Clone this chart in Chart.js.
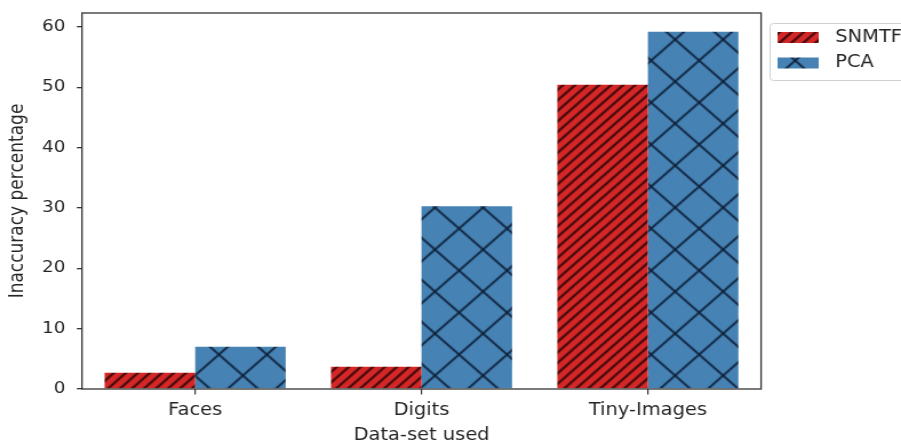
<!DOCTYPE html>
<html>
<head>
<meta charset="utf-8">
<script src="https://cdn.jsdelivr.net/npm/chart.js@4/dist/chart.umd.min.js"></script>
<style>
  html, body { margin: 0; padding: 0; background: #fff; overflow: hidden; width: 901px; height: 444px; }
  /* the figure is drawn on a narrower canvas and widened to the page width */
  #wrap { width: 788px; height: 444px; transform: scaleX(1.1434); transform-origin: 0 0; }
  canvas { display: block; }
</style>
</head>
<body>
<div id="wrap"><canvas id="c" width="788" height="444"></canvas></div>
<script>
// Data
const categories = ['Faces', 'Digits', 'Tiny-Images'];
const snmtfValues = [2.7, 3.7, 50.4];
const pcaValues = [7.0, 30.3, 59.2];
const seriesNames = ['SNMTF', 'PCA'];
const yTicks = [0, 10, 20, 30, 40, 50, 60];
const yMax = 62.3;

const FONT = '"DejaVu Sans", "Liberation Sans", sans-serif';
const INK = '#262626';

// Hatched fills, tiled from the canvas origin so neighbouring bars share one grid
function hatch(fill, ink, width, drawLines) {
  const T = 42;
  const c = document.createElement('canvas');
  c.width = T; c.height = T;
  const g = c.getContext('2d');
  g.fillStyle = fill;
  g.fillRect(0, 0, T, T);
  g.strokeStyle = ink;
  g.lineWidth = width;
  g.beginPath();
  drawLines(g, T);
  g.stroke();
  const p = g.createPattern(c, 'repeat');
  p.setTransform(new DOMMatrix().translate(2.4, -2.5));
  return p;
}

const stripeFill = hatch('#d62728', 'rgba(35,5,5,0.9)', 2.1, (g, T) => {
  const step = T / 4;
  for (let k = -1; k <= 9; k++) {
    const c = k * step;
    g.moveTo(c + 4, -4); g.lineTo(c - T - 4, T + 4);
  }
});

const crossFill = hatch('#4682b4', 'rgba(8,20,40,0.92)', 1.7, (g, T) => {
  for (const c of [0, T, 2 * T]) { g.moveTo(c + 4, -4); g.lineTo(c - T - 4, T + 4); }
  for (const d of [-T, 0, T]) { g.moveTo(d - 4, -4); g.lineTo(d + T + 4, T + 4); }
});

// Axes frame on all four sides
const frame = {
  id: 'frame',
  afterDatasetsDraw(chart) {
    const { ctx, chartArea: a } = chart;
    ctx.save();
    ctx.strokeStyle = '#333';
    ctx.lineWidth = 1.3;
    ctx.strokeRect(a.left, a.top, a.right - a.left, a.bottom - a.top);
    ctx.restore();
  }
};

// Boxed legend to the right of the axes
const legendBox = {
  id: 'legendBox',
  afterDraw(chart) {
    const ctx = chart.ctx;
    ctx.save();
    ctx.beginPath();
    ctx.roundRect(673.5, 23.5, 160, 57, 3);
    ctx.fillStyle = 'rgba(255,255,255,0.8)';
    ctx.fill();
    ctx.strokeStyle = '#d0d0d0';
    ctx.lineWidth = 1;
    ctx.stroke();
    chart.data.datasets.forEach((ds, i) => {
      const cy = 37.5 + i * 25.5;
      ctx.fillStyle = ds.backgroundColor;
      ctx.fillRect(680, cy - 5.5, 36, 11);
      ctx.fillStyle = INK;
      ctx.font = '17px ' + FONT;
      ctx.textBaseline = 'middle';
      ctx.textAlign = 'left';
      ctx.fillText(ds.label, 730.5, cy);
    });
    ctx.restore();
  }
};

new Chart(document.getElementById('c'), {
  type: 'bar',
  data: {
    labels: categories,
    datasets: [
      { label: seriesNames[0], data: snmtfValues, backgroundColor: stripeFill, borderWidth: 0 },
      { label: seriesNames[1], data: pcaValues, backgroundColor: crossFill, borderWidth: 0 }
    ]
  },
  options: {
    responsive: false,
    devicePixelRatio: 1,
    animation: false,
    layout: { padding: { left: 0, right: 122.4, top: 13, bottom: 0 } },
    datasets: { bar: { categoryPercentage: 0.8, barPercentage: 1.0 } },
    plugins: { legend: { display: false }, tooltip: { enabled: false } },
    scales: {
      x: {
        offset: true,
        border: { display: false },
        grid: { display: true, offset: false, drawOnChartArea: false, drawTicks: true, tickLength: 5.5, color: '#333', lineWidth: 1.2 },
        ticks: { color: INK, font: { family: FONT, size: 17 }, padding: 6 },
        title: { display: true, text: 'Data-set used', color: INK, font: { family: FONT, size: 17 }, padding: { top: 0, bottom: -1.5 } },
        afterFit(scale) { scale.height = 55; scale.paddingLeft = 0; scale.paddingRight = 0; }
      },
      y: {
        min: 0,
        max: yMax,
        border: { display: false },
        grid: { display: true, drawOnChartArea: false, drawTicks: true, tickLength: 4.5, color: '#333', lineWidth: 1.3 },
        ticks: { color: INK, font: { family: FONT, size: 16 }, padding: 10, includeBounds: false },
        afterBuildTicks(scale) { scale.ticks = yTicks.map(v => ({ value: v })); },
        title: { display: true, text: 'Inaccuracy percentage', color: INK, font: { family: FONT, size: 17 }, padding: { top: 5.5, bottom: 0 } },
        afterFit(scale) { scale.width = 71.7; scale.paddingTop = 0; scale.paddingBottom = 0; }
      }
    }
  },
  plugins: [frame, legendBox]
});
</script>
</body>
</html>
